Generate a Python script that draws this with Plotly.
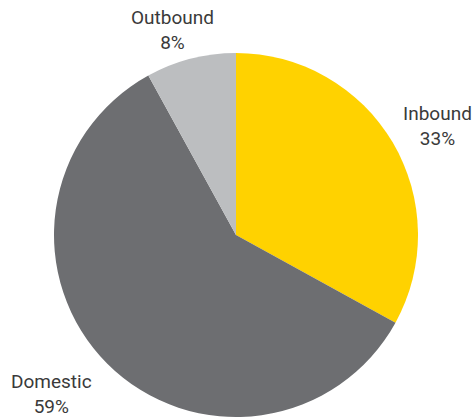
import plotly.graph_objects as go

# Share of tourism spend by segment (%)
segments = ["Inbound", "Domestic", "Outbound"]
shares = [33, 59, 8]
colors = ["#FFD200", "#6D6E71", "#BCBEC0"]

W, H = 474, 418
cx, cy, r = 236, 235, 182  # pie centre and radius in pixels

fig = go.Figure(
    go.Pie(
        labels=segments,
        values=shares,
        sort=False,
        direction="clockwise",
        rotation=0,
        marker=dict(colors=colors, line=dict(width=0)),
        textinfo="none",
        hoverinfo="label+percent",
        domain=dict(
            x=[(cx - r) / W, (cx + r) / W],
            y=[1 - (cy + r) / H, 1 - (cy - r) / H],
        ),
    )
)

# Label positions (pixel coordinates of the text centre)
label_pos = {"Outbound": (172, 30), "Inbound": (437, 126), "Domestic": (51, 394)}
for name, val in zip(segments, shares):
    px, py = label_pos[name]
    fig.add_annotation(
        x=px / W, y=1 - py / H, xref="paper", yref="paper",
        text=f"{name}<br>{val}%", showarrow=False,
        xanchor="center", yanchor="middle", align="center",
        font=dict(family="Roboto", size=19, color="#3a3a3a"),
    )

fig.update_layout(
    width=W, height=H,
    margin=dict(l=0, r=0, t=0, b=0),
    paper_bgcolor="white", plot_bgcolor="white",
    showlegend=False,
)

fig.write_html("out.html")
